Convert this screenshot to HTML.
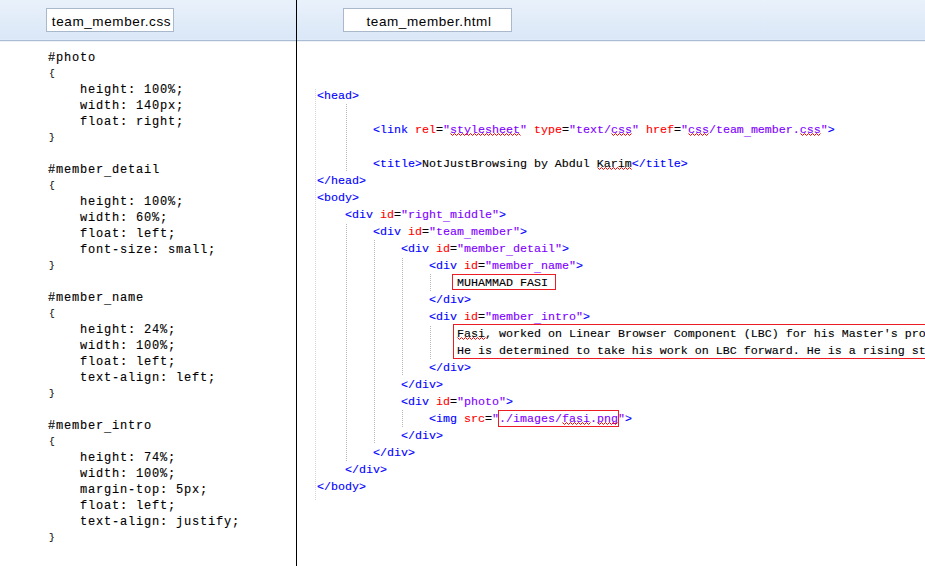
<!DOCTYPE html>
<html><head><meta charset="utf-8"><style>
html,body{margin:0;padding:0;}
body{width:925px;height:566px;overflow:hidden;position:relative;background:#fff;}
#hdr{position:absolute;left:0;top:0;width:925px;height:40px;background:linear-gradient(#e9f1fb,#dae7f7);border-bottom:1px solid #a9bcd3;box-shadow:inset 0 -1px #e0ebf9, 0 1px #eef1f5;}
.tab{position:absolute;top:8px;height:22px;background:#fff;border:1px solid #a9b8cb;font-family:"Liberation Sans",sans-serif;font-size:13.5px;letter-spacing:0.6px;color:#000;line-height:25px;text-align:center;text-indent:3px;box-sizing:content-box;}
#vl{position:absolute;left:296px;top:0;width:1px;height:566px;background:#000;}
.ll{position:absolute;left:48px;white-space:pre;font-family:"Liberation Mono",monospace;font-size:12px;letter-spacing:0.8px;line-height:16px;color:#000;}
.rl{position:absolute;white-space:pre;font-family:"Liberation Mono",monospace;font-size:11.667px;line-height:17px;color:#000;}
.ll,.rl{-webkit-text-stroke:0.12px currentColor;}
.br{font-size:9.6px;padding-left:1px;}
.ul{position:relative;top:2px}.ur{position:relative;top:3px}
.t{color:#0000ff}.a{color:#ff0000}.v{color:#8000ff}.k{color:#000}

.g{position:absolute;width:1px;background:repeating-linear-gradient(#b8b8b8 0 1px,transparent 1px 2px);}
.box{position:absolute;border:1px solid #ed1c24;}
</style></head><body>
<div id="hdr"></div>
<div class="tab" style="left:46px;width:126px;">team_member.css</div>
<div class="tab" style="left:343px;width:167px;">team_member.html</div>
<div id="vl"></div>

<div class="ll" style="top:50px">#photo</div>
<div class="ll br" style="top:66px">{</div>
<div class="ll" style="top:82px">    height: 100%;</div>
<div class="ll" style="top:98px">    width: 140px;</div>
<div class="ll" style="top:114px">    float: right;</div>
<div class="ll br" style="top:130px">}</div>
<div class="ll" style="top:162px">#member<span class="ul">_</span>detail</div>
<div class="ll br" style="top:178px">{</div>
<div class="ll" style="top:194px">    height: 100%;</div>
<div class="ll" style="top:210px">    width: 60%;</div>
<div class="ll" style="top:226px">    float: left;</div>
<div class="ll" style="top:242px">    font-size: small;</div>
<div class="ll br" style="top:258px">}</div>
<div class="ll" style="top:290px">#member<span class="ul">_</span>name</div>
<div class="ll br" style="top:306px">{</div>
<div class="ll" style="top:322px">    height: 24%;</div>
<div class="ll" style="top:338px">    width: 100%;</div>
<div class="ll" style="top:354px">    float: left;</div>
<div class="ll" style="top:370px">    text-align: left;</div>
<div class="ll br" style="top:386px">}</div>
<div class="ll" style="top:418px">#member<span class="ul">_</span>intro</div>
<div class="ll br" style="top:434px">{</div>
<div class="ll" style="top:450px">    height: 74%;</div>
<div class="ll" style="top:466px">    width: 100%;</div>
<div class="ll" style="top:482px">    margin-top: 5px;</div>
<div class="ll" style="top:498px">    float: left;</div>
<div class="ll" style="top:514px">    text-align: justify;</div>
<div class="ll br" style="top:530px">}</div>
<div class="rl" style="top:88px;left:317px"><span class="t">&lt;head&gt;</span></div>
<div class="rl" style="top:122px;left:373px"><span class="t">&lt;link </span><span class="a">rel</span><span class="k">=</span><span class="v">"<span class="sq">stylesheet</span>"</span> <span class="a">type</span><span class="k">=</span><span class="v">"text/<span class="sq">css</span>"</span> <span class="a">href</span><span class="k">=</span><span class="v">"<span class="sq">css</span>/team<span class="ur">_</span>member.<span class="sq">css</span>"</span><span class="t">&gt;</span></div>
<div class="rl" style="top:156px;left:373px"><span class="t">&lt;title&gt;</span><span class="k">NotJustBrowsing by Abdul </span><span class="k sq">Karim</span><span class="t">&lt;/title&gt;</span></div>
<div class="rl" style="top:173px;left:317px"><span class="t">&lt;/head&gt;</span></div>
<div class="rl" style="top:190px;left:317px"><span class="t">&lt;body&gt;</span></div>
<div class="rl" style="top:207px;left:345px"><span class="t">&lt;div </span><span class="a">id</span><span class="k">=</span><span class="v">"right<span class="ur">_</span>middle"</span><span class="t">&gt;</span></div>
<div class="rl" style="top:224px;left:373px"><span class="t">&lt;div </span><span class="a">id</span><span class="k">=</span><span class="v">"team<span class="ur">_</span>member"</span><span class="t">&gt;</span></div>
<div class="rl" style="top:241px;left:401px"><span class="t">&lt;div </span><span class="a">id</span><span class="k">=</span><span class="v">"member<span class="ur">_</span>detail"</span><span class="t">&gt;</span></div>
<div class="rl" style="top:258px;left:429px"><span class="t">&lt;div </span><span class="a">id</span><span class="k">=</span><span class="v">"member<span class="ur">_</span>name"</span><span class="t">&gt;</span></div>
<div class="rl" style="top:275px;left:457px"><span class="k">MUHAMMAD FASI</span></div>
<div class="rl" style="top:292px;left:429px"><span class="t">&lt;/div&gt;</span></div>
<div class="rl" style="top:309px;left:429px"><span class="t">&lt;div </span><span class="a">id</span><span class="k">=</span><span class="v">"member<span class="ur">_</span>intro"</span><span class="t">&gt;</span></div>
<div class="rl" style="top:326px;left:457px"><span class="k sq">Fasi</span><span class="k">, worked on Linear Browser Component (LBC) for his Master&#x27;s project</span></div>
<div class="rl" style="top:343px;left:457px"><span class="k">He is determined to take his work on LBC forward. He is a rising star</span></div>
<div class="rl" style="top:360px;left:429px"><span class="t">&lt;/div&gt;</span></div>
<div class="rl" style="top:377px;left:401px"><span class="t">&lt;/div&gt;</span></div>
<div class="rl" style="top:394px;left:401px"><span class="t">&lt;div </span><span class="a">id</span><span class="k">=</span><span class="v">"photo"</span><span class="t">&gt;</span></div>
<div class="rl" style="top:411px;left:429px"><span class="t">&lt;img </span><span class="a">src</span><span class="k">=</span><span class="v">"./images/<span class="sq">fasi</span>.<span class="sq">png</span>"</span><span class="t">&gt;</span></div>
<div class="rl" style="top:428px;left:401px"><span class="t">&lt;/div&gt;</span></div>
<div class="rl" style="top:445px;left:373px"><span class="t">&lt;/div&gt;</span></div>
<div class="rl" style="top:462px;left:345px"><span class="t">&lt;/div&gt;</span></div>
<div class="rl" style="top:479px;left:317px"><span class="t">&lt;/body&gt;</span></div>
<div class="g" style="left:315px;top:89px;height:411px;background:repeating-linear-gradient(#d6d6d6 0 1px,transparent 1px 2px)"></div>
<div class="g" style="left:346px;top:104px;height:68px;"></div>
<div class="g" style="left:346px;top:224px;height:237px;"></div>
<div class="g" style="left:374px;top:240px;height:204px;"></div>
<div class="g" style="left:402px;top:258px;height:118px;"></div>
<div class="g" style="left:402px;top:410px;height:17px;"></div>
<div class="g" style="left:430px;top:274px;height:17px;"></div>
<div class="g" style="left:430px;top:326px;height:33px;"></div>
<div class="box" style="left:452px;top:274px;width:102px;height:14px"></div>
<div class="box" style="left:453px;top:324px;width:480px;height:33px"></div>
<div class="box" style="left:498px;top:410px;width:119px;height:15px"></div>
<svg style="position:absolute;left:0;top:0" width="925" height="566"><g fill="none" stroke="#ff0000" stroke-width="1">
<polyline points="450.5,133.5 452.5,135.5 454.5,133.5 456.5,135.5 458.5,133.5 460.5,135.5 462.5,133.5 464.5,135.5 466.5,133.5 468.5,135.5 470.5,133.5 472.5,135.5 474.5,133.5 476.5,135.5 478.5,133.5 480.5,135.5 482.5,133.5 484.5,135.5 486.5,133.5 488.5,135.5 490.5,133.5 492.5,135.5 494.5,133.5 496.5,135.5 498.5,133.5 500.5,135.5 502.5,133.5 504.5,135.5 506.5,133.5 508.5,135.5 510.5,133.5 512.5,135.5 514.5,133.5 516.5,135.5 518.5,133.5 520.5,135.5"/>
<polyline points="611.5,133.5 613.5,135.5 615.5,133.5 617.5,135.5 619.5,133.5 621.5,135.5 623.5,133.5 625.5,135.5 627.5,133.5 629.5,135.5 631.5,133.5"/>
<polyline points="688.5,133.5 690.5,135.5 692.5,133.5 694.5,135.5 696.5,133.5 698.5,135.5 700.5,133.5 702.5,135.5 704.5,133.5 706.5,135.5 708.5,133.5"/>
<polyline points="800.5,133.5 802.5,135.5 804.5,133.5 806.5,135.5 808.5,133.5 810.5,135.5 812.5,133.5 814.5,135.5 816.5,133.5 818.5,135.5 820.5,133.5"/>
<polyline points="597.5,167.5 599.5,169.5 601.5,167.5 603.5,169.5 605.5,167.5 607.5,169.5 609.5,167.5 611.5,169.5 613.5,167.5 615.5,169.5 617.5,167.5 619.5,169.5 621.5,167.5 623.5,169.5 625.5,167.5 627.5,169.5 629.5,167.5 631.5,169.5"/>
<polyline points="457.5,337.5 459.5,339.5 461.5,337.5 463.5,339.5 465.5,337.5 467.5,339.5 469.5,337.5 471.5,339.5 473.5,337.5 475.5,339.5 477.5,337.5 479.5,339.5 481.5,337.5 483.5,339.5 485.5,337.5"/>
<polyline points="562.5,422.5 564.5,424.5 566.5,422.5 568.5,424.5 570.5,422.5 572.5,424.5 574.5,422.5 576.5,424.5 578.5,422.5 580.5,424.5 582.5,422.5 584.5,424.5 586.5,422.5 588.5,424.5 590.5,422.5"/>
<polyline points="597.5,422.5 599.5,424.5 601.5,422.5 603.5,424.5 605.5,422.5 607.5,424.5 609.5,422.5 611.5,424.5 613.5,422.5 615.5,424.5 617.5,422.5"/>
</g></svg>
</body></html>
